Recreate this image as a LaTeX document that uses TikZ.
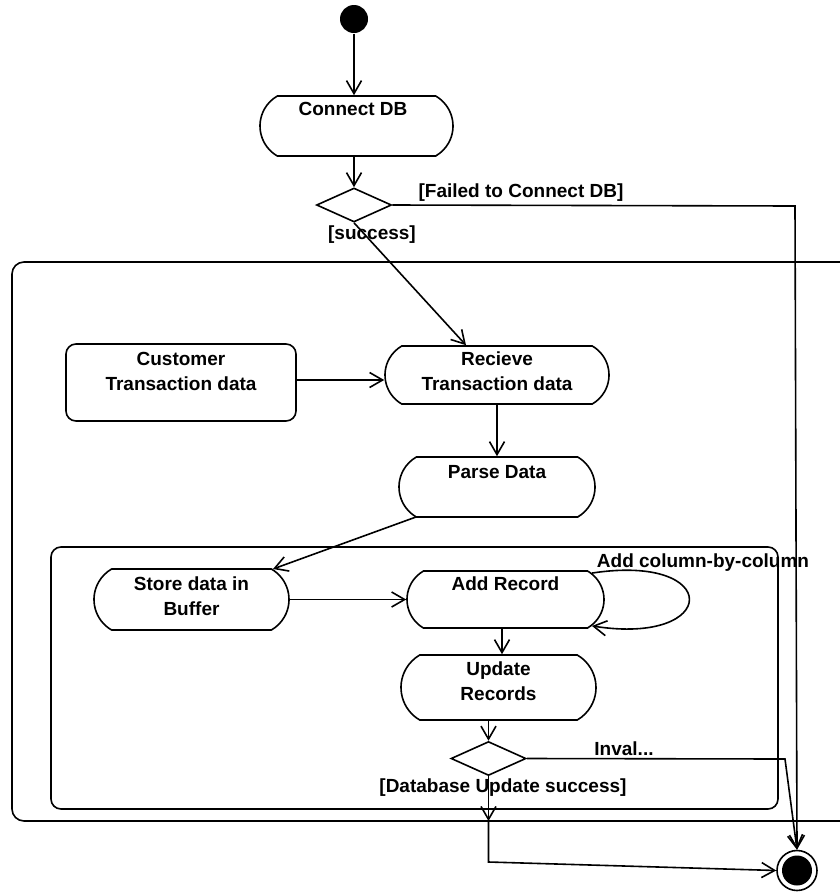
\documentclass[tikz,border=0pt]{standalone}
\usepackage{fontspec}
\setmainfont{Liberation Sans}
\usetikzlibrary{shapes.misc,shapes.geometric,arrows.meta,calc}
\newcommand\ntxt[2]{\raisebox{#1}[0pt][0pt]{\begin{tabular}{@{}c@{}}#2\end{tabular}}}
\begin{document}
\begin{tikzpicture}[x=1pt,y=-1pt, line width=1.6pt,
  every node/.style={font=\bfseries\fontsize{19}{25}\selectfont, inner sep=0pt},
  flow/.style={-{Straight Barb[length=13pt,width=15pt]}},
  act/.style={rounded rectangle, rounded rectangle arc length=120, draw},
  dec/.style={diamond, draw, minimum width=75pt, minimum height=34pt, aspect=2.2},
  lbl/.style={}]
\useasboundingbox (0,0) rectangle (840,892);
% frames
\begin{scope}
\clip (0,0) rectangle (840,892);
\draw[rounded corners=12pt] (12,262) rectangle (870,821);
\end{scope}
\draw[rounded corners=10pt] (51,547) rectangle (778,809);
% nodes
\node[circle, fill, minimum size=28pt] (init) at (354,19) {};
\node[act, minimum width=193pt, minimum height=60pt] (connect) at (356.5,126) {\ntxt{11pt}{Connect DB\hspace*{7pt}}};
\node[dec] (dia1) at (354,205) {};
\node[lbl] (lfail) at (521,193) {[Failed to Connect DB]};
\node[lbl] (lsucc) at (372,235) {[success]};
\node[draw, rounded corners=10pt, minimum width=230pt, minimum height=77pt] (cust) at (181,382.5) {\ntxt{5.6pt}{Customer\\Transaction data}};
\node[act, minimum width=224pt, minimum height=58pt] (recv) at (497,375) {\ntxt{-2pt}{Recieve\\Transaction data}};
\node[act, minimum width=196pt, minimum height=60pt] (parse) at (497,487) {\ntxt{9.6pt}{Parse Data}};
\node[act, minimum width=195pt, minimum height=61pt] (store) at (191.5,599.5) {\ntxt{-2.4pt}{Store data in\\Buffer}};
\node[act, minimum width=197pt, minimum height=57pt] (add) at (505.5,599.5) {\ntxt{10pt}{Add Record}};
\node[lbl] (lcol) at (703,563) {Add column-by-column};
\node[act, minimum width=195pt, minimum height=65pt] (upd) at (498.5,687.5) {\ntxt{0.6pt}{Update\\Records}};
\node[dec] (dia2) at (488.5,758.5) {};
\node[lbl] (linv) at (624,749) {Inval...};
\node[lbl] (ldbs) at (503,788) {[Database Update success]};
\node[circle, draw, minimum size=40pt] (final) at (797,870.5) {};
\fill (final.center) circle (15pt);
% connectors
\coordinate (c1) at (795,206);
\coordinate (c2) at (785,759);
\coordinate (c3) at (488.5,821);
\coordinate (c4) at (488.5,862);
\draw[flow] (init) -- (init |- connect.north);
\draw[flow] (dia1.north |- connect.south) -- (dia1.north);
\draw[flow] (dia1.east) -- (c1) -- (final.north);
\draw[flow] (dia1.south) -- ($(recv.north)+(-31,0)$);
\draw[flow] ([yshift=2.5pt]cust.east) -- ([yshift=-5pt]recv.west);
\draw[flow] (recv.south) -- (parse.north);
\draw[flow] ($(parse.center)+(-81,30)$) -- ($(store.center)+(81.5,-30.5)$);
\draw[flow] (store.east) -- (add.west);
\draw[flow] (add.17) .. controls +(131,-20) and +(128,20) .. (add.-17);
\draw[flow] ([xshift=-3.5pt]add.south) -- ([xshift=3.5pt]upd.north);
\draw[flow] (dia2.north |- upd.south) -- (dia2.north);
\draw[flow] (dia2.east) -- (c2) -- (final.north);
\draw[flow] (dia2.south) -- (c3);
\draw[flow] (c3) -- (c4) -- (final.west);
\end{tikzpicture}
\end{document}
